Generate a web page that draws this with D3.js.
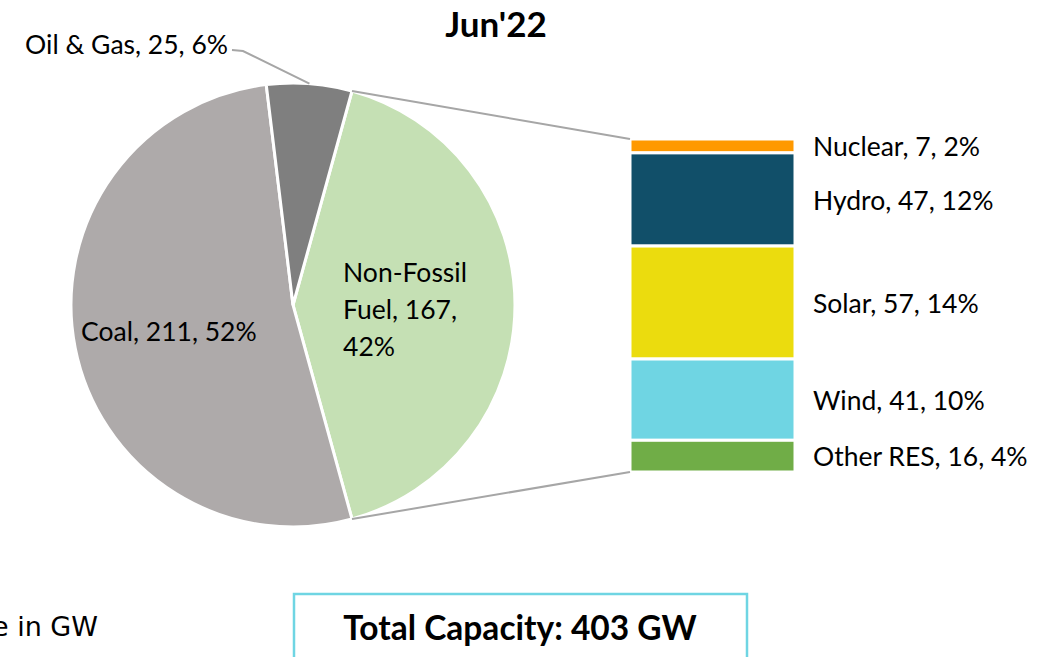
<!DOCTYPE html>
<html><head><meta charset="utf-8">
<script src="https://cdn.jsdelivr.net/npm/d3@7"></script>
<style>
html,body{margin:0;padding:0;background:#fff;overflow:hidden;}
svg{display:block;}
text{font-family:Lato, "Open Sans", sans-serif;fill:#000;}
</style></head>
<body>
<svg id="chart" width="1050" height="657"></svg>
<script>
// ---- data ----
const title = "Jun'22";
const pieCategories = ["Non-Fossil Fuel", "Coal", "Oil & Gas"];
const pieValues = [167, 211, 25];
const piePercents = ["42%", "52%", "6%"];
const pieColors = ["#c5e0b4", "#aeaaaa", "#7f7f7f"];

const barCategories = ["Nuclear", "Hydro", "Solar", "Wind", "Other RES"];
const barValues = [7, 47, 57, 41, 16];
const barPercents = ["2%", "12%", "14%", "10%", "4%"];
const barColors = ["#ff9900", "#114f69", "#ebdc0e", "#6fd5e3", "#70ad47"];

const totalText = "Total Capacity: 403 GW";
const unitText = "Size in GW";

// ---- layout ----
const FS = "26.5px";
const svg = d3.select("#chart");
const cx = 293, cy = 305, R = 222;
const total = d3.sum(pieValues);
const startA = Math.PI / 2 - (pieValues[0] / total) * Math.PI;

const pie = d3.pie().sort(null).value(d => d.v)
  .startAngle(startA).endAngle(startA + 2 * Math.PI);
const pieData = pie(pieCategories.map((c, i) => ({c, v: pieValues[i], p: piePercents[i], col: pieColors[i]})));
const arc = d3.arc().innerRadius(0).outerRadius(R);

const g = svg.append("g").attr("transform", `translate(${cx},${cy})`);
g.selectAll("path").data(pieData).join("path")
  .attr("d", arc).attr("fill", d => d.data.col)
  .attr("stroke", "#fff").attr("stroke-width", 3).attr("stroke-linejoin", "miter");

// bar of pie
const barX = 630, barW = 165, barTop = 139, barBottom = 472;
const y = d3.scaleLinear().domain([0, d3.sum(barValues)]).range([barTop, barBottom]);
const cum = d3.cumsum(barValues);
const barData = barCategories.map((c, i) => ({c, v: barValues[i], p: barPercents[i], col: barColors[i], y0: cum[i] - barValues[i], y1: cum[i]}));
svg.append("g").selectAll("rect").data(barData).join("rect")
  .attr("x", barX).attr("width", barW)
  .attr("y", d => y(d.y0)).attr("height", d => y(d.y1) - y(d.y0))
  .attr("fill", d => d.col).attr("stroke", "#fff").attr("stroke-width", 3);

svg.append("g").selectAll("text").data(barData).join("text")
  .attr("x", 813).attr("y", d => (y(d.y0) + y(d.y1)) / 2 + 1)
  .attr("dy", "0.35em").style("font-size", FS)
  .text(d => `${d.c}, ${d.v}, ${d.p}`);

// connector lines
const nf = pieData[0];
const pt = a => [cx + R * Math.sin(a), cy - R * Math.cos(a)];
const pTop = pt(nf.startAngle), pBot = pt(nf.endAngle);
svg.append("line").attr("x1", pTop[0]).attr("y1", pTop[1]).attr("x2", barX).attr("y2", barTop)
  .attr("stroke", "#a6a6a6").attr("stroke-width", 2);
svg.append("line").attr("x1", pBot[0]).attr("y1", pBot[1]).attr("x2", barX).attr("y2", barBottom)
  .attr("stroke", "#a6a6a6").attr("stroke-width", 2);

// pie labels
const labelArc = d3.arc().innerRadius(R * 0.57).outerRadius(R * 0.57);
const coal = pieData[1];
const cc = labelArc.centroid(coal);
g.append("text").attr("x", cc[0]).attr("y", cc[1] + 2).attr("text-anchor", "middle").attr("dy", "0.35em")
  .style("font-size", FS).text(`${coal.data.c}, ${coal.data.v}, ${coal.data.p}`);
const nfc = d3.arc().innerRadius(R * 0.5).outerRadius(R * 0.5).centroid(nf);
const nfLines = ["Non-Fossil", `Fuel, ${nf.data.v},`, nf.data.p];
const nft = g.append("text").style("font-size", FS);
nfLines.forEach((l, i) => nft.append("tspan").attr("x", 0).attr("y", (i - 1) * 37).attr("dy", "0.35em").text(l));
const nfw = nft.node().getBBox().width;
nft.attr("transform", `translate(${nfc[0] - nfw / 2 + 1},${nfc[1] + 5})`);
const og = pieData[2];
const ogMid = (og.startAngle + og.endAngle) / 2;
const ogP = pt(ogMid);
svg.append("text").attr("x", 228).attr("y", 45).attr("text-anchor", "end").attr("dy", "0.35em")
  .style("font-size", FS).text(`${og.data.c}, ${og.data.v}, ${og.data.p}`);
svg.append("polyline").attr("points", `${232},${50} ${243},${51} ${ogP[0]},${ogP[1]}`)
  .attr("fill", "none").attr("stroke", "#a6a6a6").attr("stroke-width", 2);

// title
svg.append("text").attr("x", 496).attr("y", 25).attr("text-anchor", "middle").attr("dy", "0.35em")
  .style("font-size", "35px").style("font-weight", "bold").text(title);

// unit note (cut at left edge as in the reference)
svg.append("text").attr("x", 98).attr("y", 627).attr("text-anchor", "end").attr("dy", "0.35em")
  .style("font-family", "'DejaVu Sans', sans-serif").style("font-size", "27px").text(unitText);

// total box
svg.append("rect").attr("x", 294).attr("y", 594).attr("width", 453).attr("height", 80)
  .attr("fill", "#fff").attr("stroke", "#6fd5e3").attr("stroke-width", 2.5);
svg.append("text").attr("x", 520).attr("y", 628).attr("text-anchor", "middle").attr("dy", "0.35em")
  .style("font-size", "33.5px").style("font-weight", "bold").text(totalText);
</script>
</body></html>
